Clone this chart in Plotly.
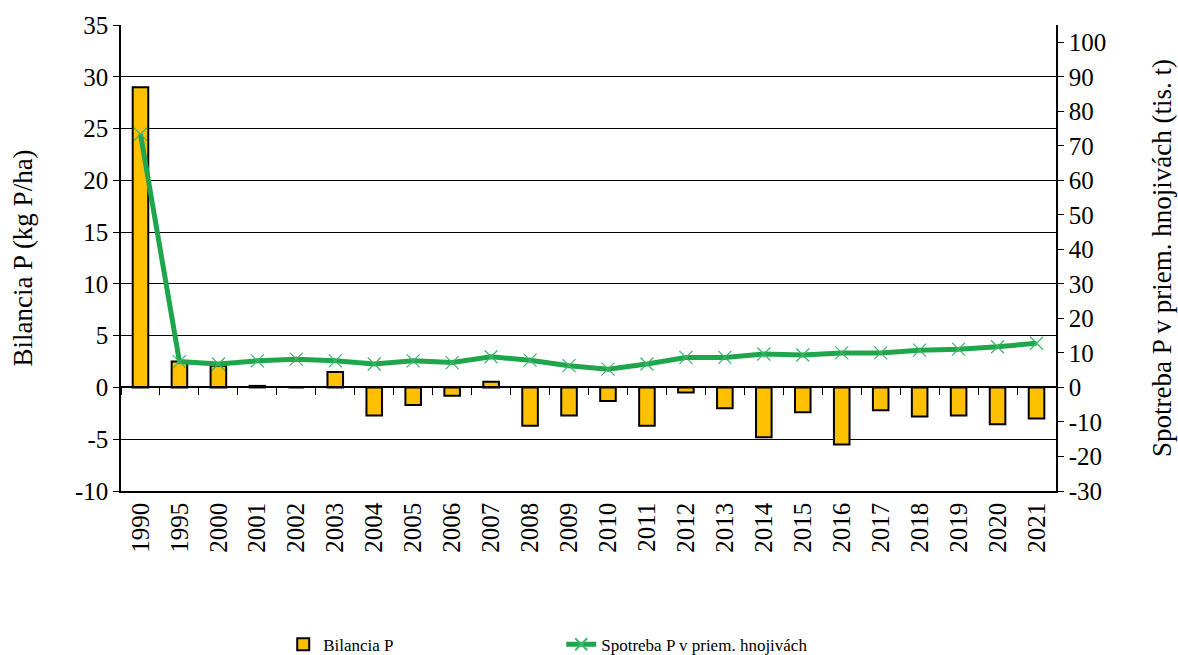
import plotly.graph_objects as go

years = ["1990", "1995", "2000", "2001", "2002", "2003", "2004", "2005", "2006", "2007",
         "2008", "2009", "2010", "2011", "2012", "2013", "2014", "2015", "2016", "2017",
         "2018", "2019", "2020", "2021"]
bilancia_p = [29.0, 2.5, 2.1, 0.15, 0.0, 1.5, -2.7, -1.7, -0.8, 0.55,
              -3.7, -2.7, -1.3, -3.7, -0.5, -2.0, -4.8, -2.4, -5.5, -2.2,
              -2.8, -2.7, -3.55, -3.0]
spotreba_p = [73.4, 7.5, 6.8, 7.7, 8.2, 7.7, 6.8, 7.7, 7.2, 8.9,
              7.9, 6.3, 5.3, 6.8, 8.7, 8.7, 9.7, 9.4, 10.0, 10.0,
              10.8, 11.1, 11.8, 12.8]
left_ticks = [-10, -5, 0, 5, 10, 15, 20, 25, 30, 35]
right_ticks = list(range(-30, 101, 10))

FONT = "Liberation Serif"
FS = 25
TS = 27

fig = go.Figure()
fig.add_trace(go.Bar(
    x=years, y=bilancia_p, name="Bilancia P",
    marker=dict(color="#FFC000", line=dict(color="black", width=2)),
    xaxis="x", yaxis="y",
))
fig.add_trace(go.Scatter(
    x=years, y=spotreba_p, name="Spotreba P v priem. hnojivách",
    mode="lines+markers",
    line=dict(color="#1FA64C", width=5),
    marker=dict(symbol="x-thin", size=13, color="#3DB56A",
                line=dict(color="#3DB56A", width=1.2)),
    xaxis="x", yaxis="y2",
))
# invisible trace for the zero-line category axis with tick marks
fig.add_trace(go.Scatter(
    x=years, y=[0] * len(years), mode="markers", marker=dict(opacity=0),
    showlegend=False, hoverinfo="skip", xaxis="x2", yaxis="y",
))

fig.update_layout(
    width=1178, height=655,
    margin=dict(l=121, r=122, t=25, b=164, autoexpand=False),
    paper_bgcolor="white", plot_bgcolor="white",
    font=dict(family=FONT, size=FS, color="black"),
    bargap=0.6,
    showlegend=True,
    legend=dict(
        orientation="h", x=0.1735, y=-0.33, xanchor="left", yanchor="middle",
        font=dict(family=FONT, size=17, color="black"),
        entrywidth=233, entrywidthmode="pixels",
        itemsizing="constant",
    ),
    xaxis=dict(
        type="category", categoryorder="array", categoryarray=years,
        range=[-0.5, len(years) - 0.5],
        tickangle=-90, showgrid=False, ticks="",
        showline=True, linecolor="black", linewidth=1.5,
        mirror=False, tickfont=dict(family=FONT, size=FS),
    ),
    xaxis2=dict(
        type="category", categoryorder="array", categoryarray=years,
        range=[-0.5, len(years) - 0.5],
        overlaying="x", anchor="free", position=10 / 45,
        showticklabels=False, showgrid=False,
        ticks="outside", ticklen=7, tickwidth=1.2, tickcolor="black",
        tickson="boundaries",
        showline=True, linecolor="black", linewidth=1.5,
    ),
    yaxis=dict(
        range=[-10, 35], tickvals=left_ticks, ticktext=[str(v) for v in left_ticks],
        showgrid=True, gridcolor="black", gridwidth=1.2,
        zeroline=False,
        showline=True, linecolor="black", linewidth=1.5,
        ticks="outside", ticklen=6, tickcolor="black",
        title=dict(text="Bilancia P (kg P/ha)", font=dict(family=FONT, size=TS), standoff=34),
        tickfont=dict(family=FONT, size=FS),
    ),
    yaxis2=dict(
        range=[-30, 105], tickvals=right_ticks, ticktext=[str(v) for v in right_ticks],
        overlaying="y", side="right", anchor="x",
        showgrid=False, zeroline=False,
        showline=True, linecolor="black", linewidth=1.5,
        ticks="outside", ticklen=6, tickcolor="black",
        title=dict(text="Spotreba P v priem. hnojivách (tis. t)", font=dict(family=FONT, size=TS), standoff=47),
        tickfont=dict(family=FONT, size=FS),
    ),
)

fig.write_html("out.html")
